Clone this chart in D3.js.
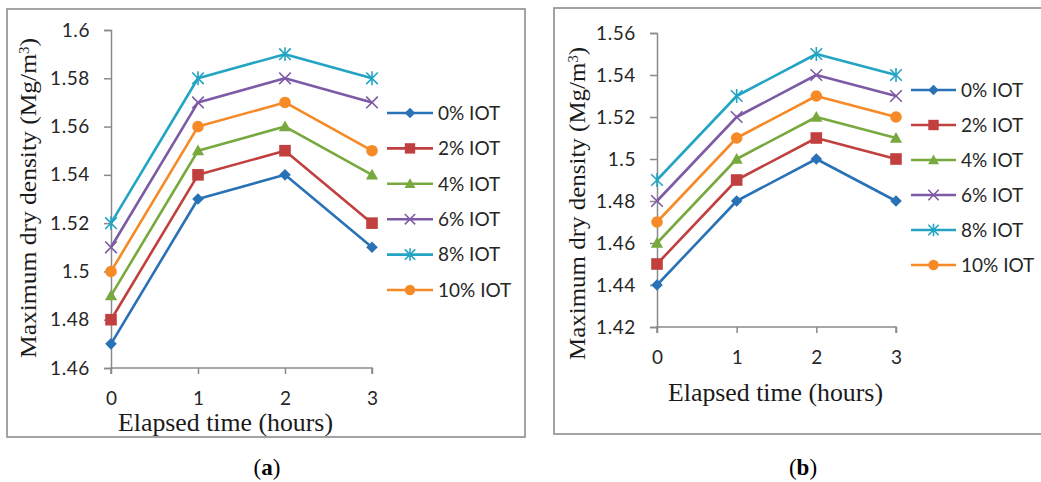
<!DOCTYPE html>
<html>
<head>
<meta charset="utf-8">
<script src="https://cdn.jsdelivr.net/npm/d3@7/dist/d3.min.js"></script>
<style>
  html, body { margin: 0; padding: 0; background: #fff; }
  svg { display: block; }
</style>
</head>
<body>
<svg id="fig" width="1041" height="482"></svg>
<script>
// Elapsed time in hours (shared x categories)
const hours = [0, 1, 2, 3];
const seriesNames = ["0% IOT", "2% IOT", "4% IOT", "6% IOT", "8% IOT", "10% IOT"];
const seriesColors = ["#2872B5", "#C1403F", "#78A93F", "#7D5AA5", "#22A4C2", "#F58A27"];
const seriesMarkers = ["diamond", "square", "triangle", "cross", "star", "circle"];

// (a) maximum dry density, Mg/m3
const densityA0 = [1.47, 1.53, 1.54, 1.51];
const densityA2 = [1.48, 1.54, 1.55, 1.52];
const densityA4 = [1.49, 1.55, 1.56, 1.54];
const densityA6 = [1.51, 1.57, 1.58, 1.57];
const densityA8 = [1.52, 1.58, 1.59, 1.58];
const densityA10 = [1.50, 1.56, 1.57, 1.55];
const yTicksA = [1.46, 1.48, 1.5, 1.52, 1.54, 1.56, 1.58, 1.6];

// (b) maximum dry density, Mg/m3
const densityB0 = [1.44, 1.48, 1.50, 1.48];
const densityB2 = [1.45, 1.49, 1.51, 1.50];
const densityB4 = [1.46, 1.50, 1.52, 1.51];
const densityB6 = [1.48, 1.52, 1.54, 1.53];
const densityB8 = [1.49, 1.53, 1.55, 1.54];
const densityB10 = [1.47, 1.51, 1.53, 1.52];
const yTicksB = [1.42, 1.44, 1.46, 1.48, 1.5, 1.52, 1.54, 1.56];

const svg = d3.select("#fig");
const AXIS = "#8a8a8a";
const SANS = "Lato, 'Open Sans', sans-serif";
const SERIF = "'Liberation Serif', 'Times New Roman', serif";

function markerPath(type, r) {
  switch (type) {
    case "diamond": return `M0,${-r}L${r},0L0,${r}L${-r},0Z`;
    case "square": return `M${-r},${-r}H${r}V${r}H${-r}Z`;
    case "triangle": return `M0,${-r * 1.05}L${r * 1.05},${r * 0.8}L${-r * 1.05},${r * 0.8}Z`;
    case "cross": return `M${-r},${-r}L${r},${r}M${-r},${r}L${r},${-r}`;
    case "star": return `M${-r},${-r}L${r},${r}M${-r},${r}L${r},${-r}M0,${-r * 1.2}V${r * 1.2}`;
    case "circle": return d3.arc()({innerRadius: 0, outerRadius: r, startAngle: 0, endAngle: 2 * Math.PI});
  }
}

function drawMarker(g, type, color, x, y, r) {
  const stroked = type === "cross" || type === "star";
  g.append("path")
    .attr("d", markerPath(type, r))
    .attr("transform", `translate(${x},${y})`)
    .attr("fill", stroked ? "none" : color)
    .attr("stroke", color)
    .attr("stroke-width", stroked ? 1.6 : 0);
}

function drawPanel(p) {
  const g = svg.append("g");

  // frame
  g.append("rect")
    .attr("x", p.box[0]).attr("y", p.box[1])
    .attr("width", p.box[2]).attr("height", p.box[3])
    .attr("fill", "none").attr("stroke", "#9a9a9a").attr("stroke-width", 1.8);

  const x = d3.scalePoint().domain(hours).range([p.x0, p.x1]);
  const y = d3.scaleLinear().domain(p.yDomain).range([p.yBottom, p.yTop]);

  // y axis
  const yAxis = g.append("g")
    .attr("transform", `translate(${p.x0},0)`)
    .call(d3.axisLeft(y).tickValues(p.yTicks).tickSize(7).tickPadding(14)
      .tickFormat(d => String(+d.toFixed(2))));
  yAxis.select(".domain").attr("stroke", AXIS).attr("stroke-width", 1.5);
  yAxis.selectAll(".tick line").attr("stroke", AXIS).attr("stroke-width", 1.5);
  yAxis.selectAll(".tick text")
    .attr("fill", "#262626").style("font-family", SANS).style("font-size", "19px")
    .style("letter-spacing", "0.6px");

  // x axis
  const xAxis = g.append("g")
    .attr("transform", `translate(0,${p.yBottom})`)
    .call(d3.axisBottom(x).tickSize(6).tickPadding(p.xPad));
  xAxis.select(".domain").attr("stroke", AXIS).attr("stroke-width", 1.5)
    .attr("d", `M${p.x0},6V0H${p.x1}V6`);
  xAxis.selectAll(".tick line").attr("stroke", AXIS).attr("stroke-width", 1.5);
  xAxis.selectAll(".tick text")
    .attr("fill", "#262626").style("font-family", SANS).style("font-size", "19px");

  // series lines and markers
  const line = d3.line().x((d, i) => x(hours[i])).y(d => y(d));
  p.series.forEach((vals, s) => {
    g.append("path")
      .datum(vals)
      .attr("d", line)
      .attr("fill", "none")
      .attr("stroke", seriesColors[s])
      .attr("stroke-width", 2.6)
      .attr("stroke-linejoin", "round");
    vals.forEach((v, i) => drawMarker(g, seriesMarkers[s], seriesColors[s], x(hours[i]), y(v), 5.8));
  });

  // y axis title
  const yt = g.append("text")
    .attr("transform", `translate(${p.yTitle[0]},${p.yTitle[1]}) rotate(-90)`)
    .attr("text-anchor", "middle")
    .attr("fill", "#1a1a1a")
    .style("font-family", SERIF).style("font-size", "24px")
    .attr("textLength", p.yTitle[2]).attr("lengthAdjust", "spacingAndGlyphs");
  yt.append("tspan").text(p.yTitleText + "(Mg/m");
  yt.append("tspan").attr("baseline-shift", "super").style("font-size", "14px").text("3");
  yt.append("tspan").text(")");

  // x axis title
  g.append("text")
    .attr("x", p.xTitle[0]).attr("y", p.xTitle[1])
    .attr("text-anchor", "middle")
    .attr("fill", "#1a1a1a")
    .style("font-family", SERIF).style("font-size", "26px")
    .attr("textLength", p.xTitle[2]).attr("lengthAdjust", "spacingAndGlyphs")
    .text("Elapsed time (hours)");

  // legend
  const lg = g.append("g");
  seriesNames.forEach((name, s) => {
    const ly = p.legend.y + s * p.legend.step;
    lg.append("line")
      .attr("x1", p.legend.x0).attr("x2", p.legend.x1)
      .attr("y1", ly).attr("y2", ly)
      .attr("stroke", seriesColors[s]).attr("stroke-width", 2.6);
    drawMarker(lg, seriesMarkers[s], seriesColors[s], (p.legend.x0 + p.legend.x1) / 2, ly, 5.2);
    lg.append("text")
      .attr("x", p.legend.tx).attr("y", ly).attr("dy", "0.36em")
      .attr("fill", "#262626")
      .style("font-family", SANS).style("font-size", "19px")
      .text(name);
  });

  // panel caption
  const cap = svg.append("text")
    .attr("x", p.caption[0]).attr("y", p.caption[1])
    .attr("text-anchor", "middle")
    .attr("fill", "#000")
    .style("font-family", SERIF).style("font-size", "23px");
  cap.append("tspan").text("(");
  cap.append("tspan").style("font-weight", "bold").text(p.captionLetter);
  cap.append("tspan").text(")");
}

drawPanel({
  box: [7, 9, 518, 428],
  x0: 111, x1: 372, yTop: 30, yBottom: 368,
  yDomain: [1.46, 1.6], yTicks: yTicksA, xPad: 18,
  series: [densityA0, densityA2, densityA4, densityA6, densityA8, densityA10],
  yTitle: [36, 198, 320], yTitleText: "Maximum  dry density ",
  xTitle: [225.5, 431, 215],
  legend: {x0: 387, x1: 433, tx: 438, y: 113, step: 35.4},
  caption: [267, 475], captionLetter: "a"
});

drawPanel({
  box: [554, 8, 500, 426],
  x0: 657, x1: 896, yTop: 33, yBottom: 327,
  yDomain: [1.42, 1.56], yTicks: yTicksB, xPad: 18,
  series: [densityB0, densityB2, densityB4, densityB6, densityB8, densityB10],
  yTitle: [585, 203.5, 313], yTitleText: "Maximum dry density ",
  xTitle: [775.5, 401, 215],
  legend: {x0: 911, x1: 956, tx: 961, y: 90, step: 35},
  caption: [803, 475], captionLetter: "b"
});
</script>
</body>
</html>
